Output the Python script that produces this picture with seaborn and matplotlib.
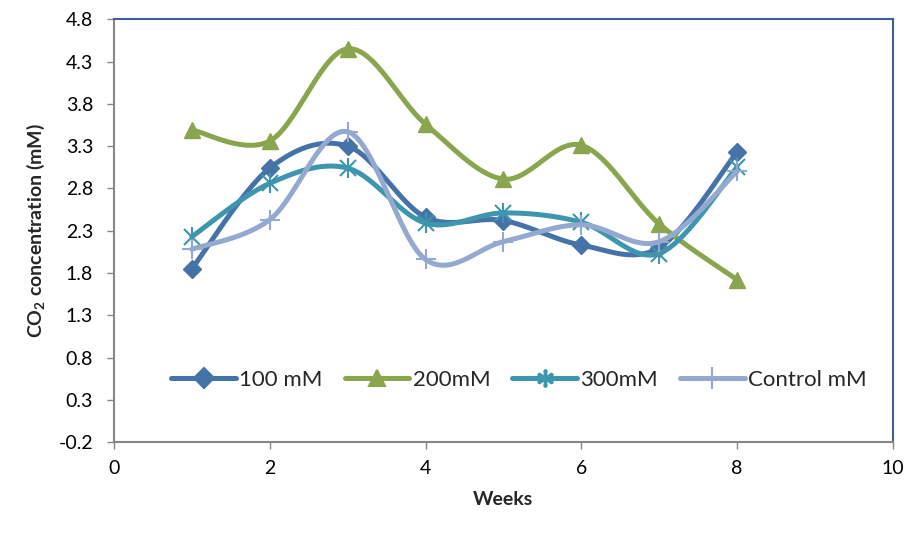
import numpy as np
import pandas as pd
import matplotlib
matplotlib.use("Agg")
import matplotlib.pyplot as plt
import seaborn as sns
from matplotlib.lines import Line2D

weeks = [1, 2, 3, 4, 5, 6, 7, 8]
s100 = [1.85, 3.04, 3.30, 2.46, 2.42, 2.13, 2.10, 3.23]
s200 = [3.49, 3.36, 4.45, 3.56, 2.91, 3.31, 2.38, 1.72]
s300 = [2.23, 2.86, 3.04, 2.39, 2.51, 2.40, 2.03, 3.05]
sctl = [2.08, 2.43, 3.47, 1.96, 2.17, 2.37, 2.17, 3.00]
labels = ["100 mM", "200mM", "300mM", "Control mM"]
colors = ["#4572A7", "#89A54E", "#3D96AE", "#93A9CF"]
markers = ["D", "^", "*", "+"]
yticks = [-0.2, 0.3, 0.8, 1.3, 1.8, 2.3, 2.8, 3.3, 3.8, 4.3, 4.8]
xticks = [0, 2, 4, 6, 8, 10]

sns.set_theme(style="white")
plt.rcParams["font.family"] = ["Lato", "DejaVu Sans"]
plt.rcParams["mathtext.fontset"] = "custom"
plt.rcParams["mathtext.rm"] = "Lato"
plt.rcParams["mathtext.bf"] = "Lato:bold"


def smooth(xs, ys, n=30):
    x = np.asarray(xs, float)
    y = np.asarray(ys, float)
    px = np.concatenate([[x[0]], x, [x[-1]]])
    py = np.concatenate([[y[0]], y, [y[-1]]])
    ox, oy = [], []
    t = np.linspace(0, 1, n)
    for i in range(1, len(px) - 2):
        p0 = np.array([px[i], py[i]])
        p3 = np.array([px[i + 1], py[i + 1]])
        c1 = p0 + (np.array([px[i + 1], py[i + 1]]) - np.array([px[i - 1], py[i - 1]])) / 6
        c2 = p3 - (np.array([px[i + 2], py[i + 2]]) - p0) / 6
        b = ((1 - t) ** 3)[:, None] * p0 + (3 * (1 - t) ** 2 * t)[:, None] * c1 + \
            (3 * (1 - t) * t ** 2)[:, None] * c2 + (t ** 3)[:, None] * p3
        ox.extend(b[:, 0]); oy.extend(b[:, 1])
    return np.array(ox), np.array(oy)


fig = plt.figure(figsize=(9.12, 5.34), dpi=100)
ax = fig.add_axes([0.125, 0.172, 0.854, 0.792])

series = [s100, s200, s300, sctl]
handles = []
for vals, lab, col, mk in zip(series, labels, colors, markers):
    sx, sy = smooth(weeks, vals)
    sns.lineplot(x=sx, y=sy, ax=ax, color=col, lw=3.6, sort=False, estimator=None)
    msz = {"D": 9, "^": 11, "*": 14, "+": 14}[mk]
    if mk == "+":
        ax.plot(weeks, vals, ls="none", marker="+", ms=msz, mew=1.5, color=col)
    elif mk == "*":
        ax.plot(weeks, vals, ls="none", marker="x", ms=msz * 0.8, mew=1.5, color=col)
        ax.plot(weeks, vals, ls="none", marker="|", ms=msz, mew=1.5, color=col)
    else:
        ax.plot(weeks, vals, ls="none", marker=mk, ms=msz, color=col, mec=col)
    handles.append(Line2D([], [], color=col, lw=3.6,
                          marker=("$\\ast$" if mk == "*" else mk),
                          ms=({"D": 10, "^": 12, "*": 12, "+": 16}[mk]),
                          mew=1.5, mfc=col, mec=col, label=lab))

ax.set_xlim(0, 10)
ax.set_ylim(-0.2, 4.8)
ax.set_xticks(xticks)
ax.set_yticks(yticks)
ax.set_yticklabels([f"{v:.1f}" for v in yticks])
ax.tick_params(axis="both", which="major", labelsize=14, colors="#000000",
               length=5, width=1, direction="out", left=True, bottom=True)
ax.tick_params(axis="y", pad=10)
ax.tick_params(axis="x", pad=8)
ax.tick_params(axis="both", color="#878787")
for s in ["left", "bottom"]:
    ax.spines[s].set_color("#878787")
    ax.spines[s].set_linewidth(1.5)
for s in ["top", "right"]:
    ax.spines[s].set_color("#3B6294")
    ax.spines[s].set_linewidth(1.5)

ax.set_xlabel("Weeks", fontsize=14, fontweight="bold", labelpad=10)
ax.set_ylabel(r"CO$_{\mathbf{2}}$ concentration (mM)", fontsize=14, fontweight="bold", labelpad=8)

leg = ax.legend(handles=handles, loc="center", bbox_to_anchor=(0.52, 0.147), ncol=4,
                frameon=False, fontsize=16, handlelength=2.9, handletextpad=0.15,
                columnspacing=1.0)

fig.savefig("out.png", dpi=100)
